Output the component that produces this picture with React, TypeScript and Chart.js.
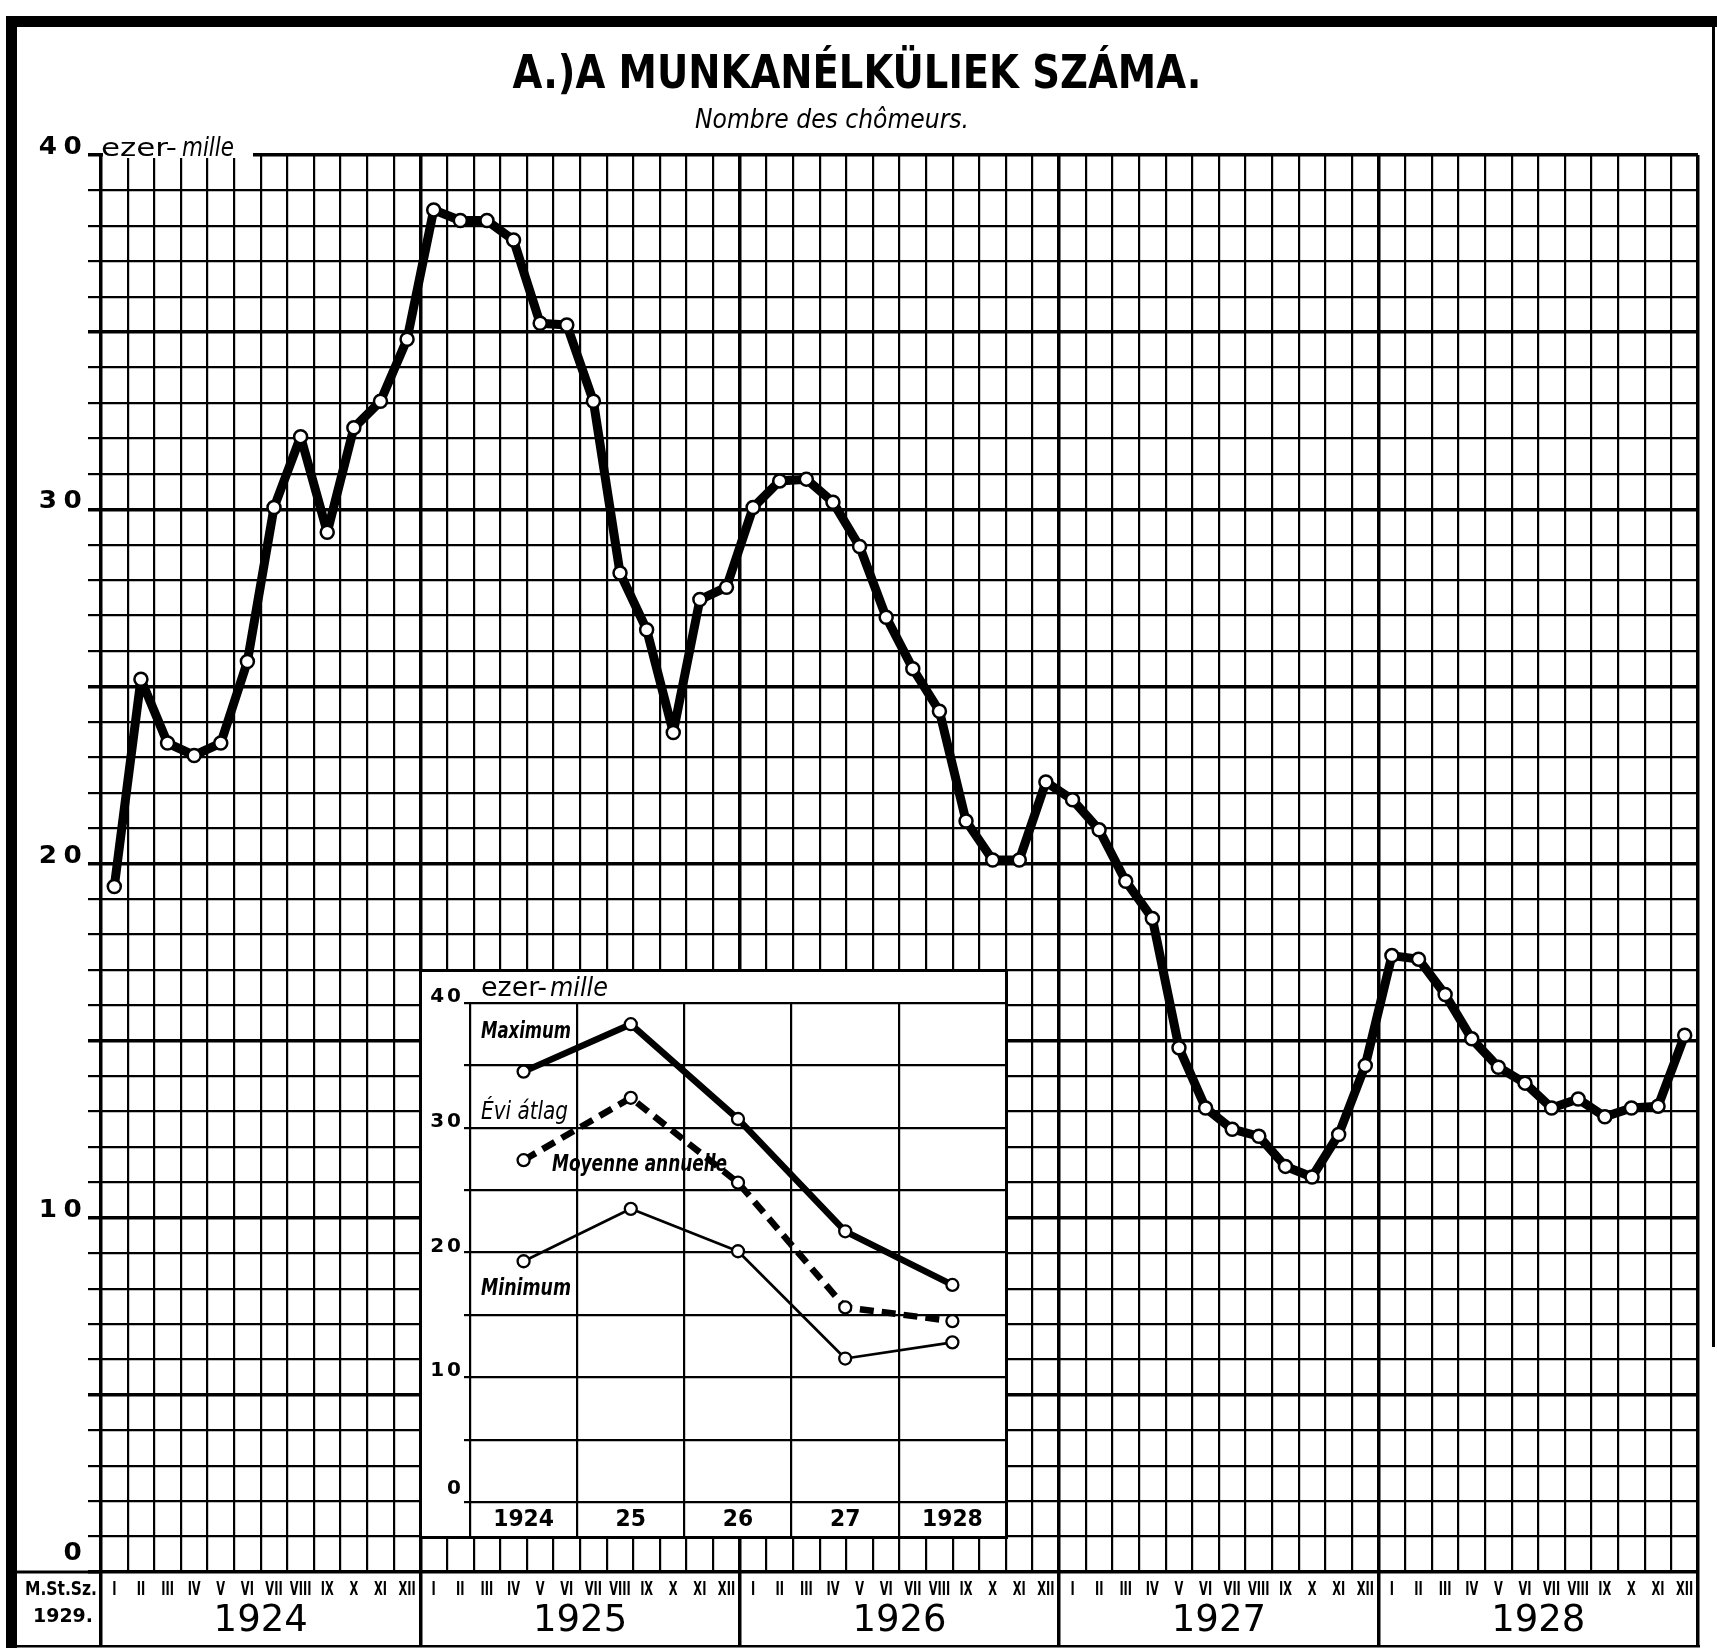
import React, { useEffect, useRef } from 'react';
import { Chart, registerables } from 'chart.js';

Chart.register(...registerables);

// ---------------- data ----------------
const YEARS = ['1924', '1925', '1926', '1927', '1928'];
const MONTHS = ['I', 'II', 'III', 'IV', 'V', 'VI', 'VII', 'VIII', 'IX', 'X', 'XI', 'XII'];

const UNEMPLOYED_1924 = [19.35, 25.2, 23.4, 23.05, 23.4, 25.7, 30.05, 32.05, 29.35, 32.3, 33.05, 34.8];
const UNEMPLOYED_1925 = [38.45, 38.15, 38.15, 37.6, 35.25, 35.2, 33.05, 28.2, 26.6, 23.7, 27.45, 27.8];
const UNEMPLOYED_1926 = [30.05, 30.8, 30.85, 30.2, 28.95, 26.95, 25.5, 24.3, 21.2, 20.1, 20.1, 22.3];
const UNEMPLOYED_1927 = [21.8, 20.95, 19.5, 18.45, 14.8, 13.1, 12.5, 12.3, 11.45, 11.15, 12.35, 14.3];
const UNEMPLOYED_1928 = [17.4, 17.3, 16.3, 15.05, 14.25, 13.8, 13.1, 13.35, 12.85, 13.1, 13.15, 15.15];

const INSET_YEARS = ['1924', '25', '26', '27', '1928'];
const INSET_MAXIMUM = [34.5, 38.3, 30.7, 21.7, 17.4];
const INSET_AVERAGE = [27.4, 32.4, 25.6, 15.6, 14.5];
const INSET_MINIMUM = [19.3, 23.5, 20.1, 11.5, 12.8];

const MAIN_Y_LABELS = [40, 30, 20, 10, 0];
const INSET_Y_LABELS = [40, 30, 20, 10, 0];

const TITLE = 'A.)A MUNKANÉLKÜLIEK SZÁMA.';
const SUBTITLE = 'Nombre des chômeurs.';
const UNIT_A = 'ezer-';
const UNIT_B = 'mille';
const SOURCE_1 = 'M.St.Sz.';
const SOURCE_2 = '1929.';
const LABEL_MAX = 'Maximum';
const LABEL_AVG_HU = 'Évi átlag';
const LABEL_AVG_FR = 'Moyenne annuelle';
const LABEL_MIN = 'Minimum';

// ---------------- layout ----------------
const W = 1717;
const H = 1652;
const PAD = { left: 101, right: 19, top: 155, bottom: 80 };
// inset occupies this block of the main grid (months / values)
const INSET_BLOCK = { m0: 12, m1: 34, v0: 1, v1: 17 };

const SANS = '"DejaVu Sans", "Liberation Sans", sans-serif';
const NARROW = '"Liberation Sans Narrow", "DejaVu Sans Condensed", "DejaVu Sans", sans-serif';

type TOpts = { align?: CanvasTextAlign; baseline?: CanvasTextBaseline; sx?: number; width?: number; spacing?: number };

function drawText(ctx: CanvasRenderingContext2D, s: string, x: number, y: number, font: string, o: TOpts = {}) {
  ctx.save();
  ctx.font = font;
  ctx.fillStyle = '#000';
  ctx.textAlign = o.align || 'center';
  ctx.textBaseline = o.baseline || 'middle';
  if (o.spacing) (ctx as any).letterSpacing = o.spacing + 'px';
  let sx = o.sx ?? 1;
  if (o.width) sx = o.width / ctx.measureText(s).width;
  ctx.translate(x, y);
  ctx.scale(sx, 1);
  ctx.fillText(s, 0, 0);
  ctx.restore();
}

const mainDecor = {
  id: 'mainDecor',
  afterDraw(chart: any) {
    const { ctx, chartArea: ca, scales } = chart;
    const xs = scales.x;
    const ys = scales.y;

    // gap in the top line for the unit label
    ctx.save();
    ctx.fillStyle = '#fff';
    ctx.fillRect(ca.left + 2, ca.top - 3, 150, 6);
    ctx.restore();

    // y labels
    for (const v of MAIN_Y_LABELS) {
      const y = ys.getPixelForValue(v);
      drawText(ctx, String(v), 88, v === 0 ? y - 12 : y - 1, `bold 25px ${SANS}`, {
        align: 'right', baseline: 'alphabetic', sx: 1.05, spacing: 6,
      });
    }
    drawText(ctx, UNIT_A, ca.left, ca.top + 1, `24px ${NARROW}`, { align: 'left', baseline: 'alphabetic', width: 76 });
    drawText(ctx, UNIT_B, ca.left + 81, ca.top + 1, `italic 26px ${NARROW}`, { align: 'left', baseline: 'alphabetic', width: 52 });

    // month labels
    const yMonth = ca.bottom + 18;
    for (let m = 0; m < YEARS.length * 12; m++) {
      drawText(ctx, MONTHS[m % 12], xs.getPixelForValue(m + 0.5), yMonth, `bold 19px ${SANS}`, { sx: 0.6 });
    }
    // year labels
    YEARS.forEach((yr, k) => {
      drawText(ctx, yr, xs.getPixelForValue(k * 12 + 6), ca.bottom + 49, `37px ${SANS}`, { sx: 1.0 });
    });

    // source
    drawText(ctx, SOURCE_1, 25, ca.bottom + 18, `bold 19px ${SANS}`, { align: 'left', width: 72 });
    drawText(ctx, SOURCE_2, 33, ca.bottom + 45, `bold 20px ${SANS}`, { align: 'left', width: 60 });

    // zero line extension to the frame
    ctx.save();
    ctx.fillStyle = '#000';
    const y0 = ys.getPixelForValue(0);
    ctx.fillRect(16, y0 - 1.5, ca.left - 16, 3);
    // frame
    ctx.fillRect(6, 16, 11, 1632);
    ctx.fillRect(6, 16, W - 6, 11);
    ctx.fillRect(1712, 27, 3, 1320);
    ctx.fillRect(6, 1645, ca.right - 4, 2.5);
    ctx.restore();

    // titles
    drawText(ctx, TITLE, 857, 88, `bold 46px ${NARROW}`, { baseline: 'alphabetic', width: 689 });
    drawText(ctx, SUBTITLE, 832, 128, `italic 26px ${NARROW}`, { baseline: 'alphabetic', width: 274 });
  },
};

const insetDecor = {
  id: 'insetDecor',
  beforeDraw(chart: any) {
    const { ctx, width, height } = chart;
    ctx.save();
    ctx.fillStyle = '#fff';
    ctx.fillRect(0, 0, width, height);
    ctx.restore();
  },
  afterDraw(chart: any) {
    const { ctx, chartArea: ca, scales, width, height } = chart;
    const xs = scales.x;
    const ys = scales.y;
    ctx.save();
    ctx.strokeStyle = '#000';
    ctx.lineWidth = 3;
    ctx.strokeRect(1.5, 1.5, width - 3, height - 3);
    ctx.restore();

    for (const v of INSET_Y_LABELS) {
      const y = ys.getPixelForValue(v);
      drawText(ctx, String(v), ca.left - 6, v === 0 ? y - 8 : y - 1, `bold 20px ${SANS}`, {
        align: 'right', baseline: 'alphabetic', spacing: 3,
      });
    }
    drawText(ctx, UNIT_A, ca.left + 11, ca.top - 7, `26px ${NARROW}`, { align: 'left', baseline: 'alphabetic', width: 66 });
    drawText(ctx, UNIT_B, ca.left + 80, ca.top - 7, `italic 27px ${NARROW}`, { align: 'left', baseline: 'alphabetic', width: 58 });

    drawText(ctx, LABEL_MAX, ca.left + 11, ca.top + 29, `bold italic 23px ${NARROW}`, { align: 'left', width: 90 });
    drawText(ctx, LABEL_AVG_HU, ca.left + 11, ca.top + 110, `italic 24px ${NARROW}`, { align: 'left', width: 87 });
    drawText(ctx, LABEL_AVG_FR, ca.left + 82, ca.top + 162, `bold italic 23px ${NARROW}`, { align: 'left', width: 175 });
    drawText(ctx, LABEL_MIN, ca.left + 11, ca.top + 286, `bold italic 23px ${NARROW}`, { align: 'left', width: 90 });

    INSET_YEARS.forEach((yr, i) => {
      drawText(ctx, yr, xs.getPixelForValue(i + 0.5), ca.bottom + 18, `bold 23px ${SANS}`, { sx: 0.95 });
    });
  },
};

export default function App() {
  const mainRef = useRef<HTMLCanvasElement>(null);
  const insetRef = useRef<HTMLCanvasElement>(null);

  useEffect(() => {
    const monthly = [
      ...UNEMPLOYED_1924, ...UNEMPLOYED_1925, ...UNEMPLOYED_1926, ...UNEMPLOYED_1927, ...UNEMPLOYED_1928,
    ];
    const nMonths = YEARS.length * 12;

    const main = new Chart(mainRef.current as HTMLCanvasElement, {
      type: 'line',
      data: {
        datasets: [
          {
            label: 'Munkanélküliek',
            data: monthly.map((v, i) => ({ x: i + 0.5, y: v })),
            borderColor: '#000',
            borderWidth: 9,
            borderJoinStyle: 'round',
            borderCapStyle: 'round',
            pointRadius: 6.5,
            pointBorderWidth: 2.5,
            pointBackgroundColor: '#fff',
            pointBorderColor: '#000',
            tension: 0,
            fill: false,
          },
        ],
      },
      options: {
        responsive: false,
        animation: false,
        events: [],
        layout: { padding: PAD, autoPadding: false } as any,
        plugins: { legend: { display: false }, tooltip: { enabled: false }, title: { display: false } },
        scales: {
          x: {
            type: 'linear',
            min: 0,
            max: nMonths,
            ticks: { display: false, stepSize: 1, autoSkip: false, maxTicksLimit: 1000 },
            border: { display: false },
            grid: {
              color: '#000',
              lineWidth: (c: any) => (c.tick && c.tick.value % 12 === 0 ? 3.5 : 2.2),
              drawTicks: true,
              tickLength: 73,
              tickWidth: 3.5,
              tickColor: (c: any) => (c.tick && c.tick.value % 12 === 0 ? '#000' : 'rgba(0,0,0,0)'),
            },
            afterFit: (s: any) => { s.height = 0; },
          },
          y: {
            type: 'linear',
            min: 0,
            max: 40,
            ticks: { display: false, stepSize: 1, autoSkip: false, maxTicksLimit: 1000 },
            border: { display: false },
            grid: {
              color: '#000',
              lineWidth: (c: any) => (c.tick && c.tick.value % 5 === 0 ? 3.5 : 2.2),
              drawTicks: true,
              tickLength: 13,
              tickWidth: (c: any) => (c.tick && c.tick.value % 5 === 0 ? 3.5 : 2.2),
              tickColor: '#000',
            },
            afterFit: (s: any) => { s.width = 0; },
          },
        } as any,
      },
      plugins: [mainDecor],
    });

    // place the inset over its block of the main grid
    const xs = main.scales.x;
    const ys = main.scales.y;
    const L = Math.round(xs.getPixelForValue(INSET_BLOCK.m0)) - 1;
    const R = Math.round(xs.getPixelForValue(INSET_BLOCK.m1)) + 2;
    const T = Math.round(ys.getPixelForValue(INSET_BLOCK.v1)) - 1;
    const B = Math.round(ys.getPixelForValue(INSET_BLOCK.v0)) + 2;
    const ic = insetRef.current as HTMLCanvasElement;
    ic.width = R - L;
    ic.height = B - T;
    ic.style.left = L + 'px';
    ic.style.top = T + 'px';

    const pt = {
      pointRadius: 6,
      pointBorderWidth: 2.3,
      pointBackgroundColor: '#fff',
      pointBorderColor: '#000',
      borderColor: '#000',
      borderJoinStyle: 'round' as const,
      tension: 0,
      fill: false,
    };

    const inset = new Chart(ic, {
      type: 'line',
      data: {
        datasets: [
          { ...pt, label: LABEL_MAX, data: INSET_MAXIMUM.map((v, i) => ({ x: i + 0.5, y: v })), borderWidth: 6.5 },
          { ...pt, label: LABEL_AVG_HU, data: INSET_AVERAGE.map((v, i) => ({ x: i + 0.5, y: v })), borderWidth: 6.5, borderDash: [14, 8] },
          { ...pt, label: LABEL_MIN, data: INSET_MINIMUM.map((v, i) => ({ x: i + 0.5, y: v })), borderWidth: 2.7 },
        ],
      },
      options: {
        responsive: false,
        animation: false,
        events: [],
        layout: { padding: { left: 51, right: 2, top: 34, bottom: 37 }, autoPadding: false } as any,
        plugins: { legend: { display: false }, tooltip: { enabled: false } },
        scales: {
          x: {
            type: 'linear',
            min: 0,
            max: INSET_YEARS.length,
            ticks: { display: false, stepSize: 1, autoSkip: false },
            border: { display: false },
            grid: { color: '#000', lineWidth: 2.2, drawTicks: true, tickLength: 36, tickWidth: 2.2, tickColor: '#000' },
            afterFit: (s: any) => { s.height = 0; },
          },
          y: {
            type: 'linear',
            min: 0,
            max: 40,
            ticks: { display: false, stepSize: 5, autoSkip: false },
            border: { display: false },
            grid: { color: '#000', lineWidth: 2.2, drawTicks: true, tickLength: 6, tickWidth: 2.2, tickColor: '#000' },
            afterFit: (s: any) => { s.width = 0; },
          },
        } as any,
      },
      plugins: [insetDecor],
    });

    return () => {
      inset.destroy();
      main.destroy();
    };
  }, []);

  return (
    <div style={{ position: 'absolute', left: 0, top: 0, width: W, height: H, background: '#fff', overflow: 'hidden' }}>
      <canvas ref={mainRef} width={W} height={H} style={{ position: 'absolute', left: 0, top: 0 }} />
      <canvas ref={insetRef} style={{ position: 'absolute', left: 0, top: 0 }} />
    </div>
  );
}
